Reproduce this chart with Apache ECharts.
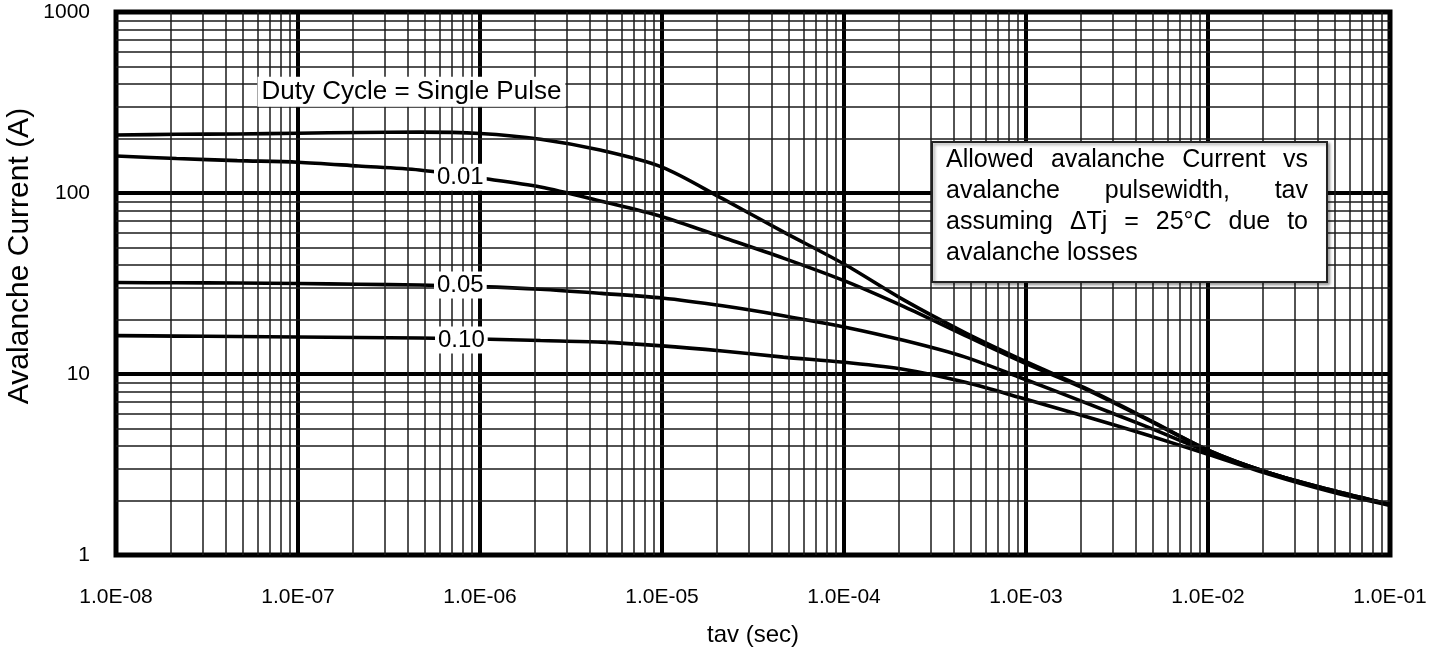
<!DOCTYPE html>
<html><head><meta charset="utf-8">
<script src="https://cdn.jsdelivr.net/npm/echarts@6/dist/echarts.min.js"></script>
<style>html,body{margin:0;padding:0;background:#fff}#c{width:1445px;height:652px}</style>
</head><body><div id="c"></div>
<script>
// ---- data ----
const tav = [1e-8, 2.15e-8, 4.64e-8, 1e-7, 2.15e-7, 4.64e-7, 1e-6, 2.15e-6, 4.64e-6, 1e-5, 2.15e-5, 4.64e-5,
             1e-4, 2.15e-4, 4.64e-4, 1e-3, 2.15e-3, 4.64e-3, 1e-2, 2.15e-2, 4.64e-2, 1e-1];
const singlePulse = [209, 211, 212, 214, 216, 217, 213, 198, 172, 139, 93, 61, 40.5, 25.5, 16.9, 11.7, 8.3, 5.65, 3.8, 2.85, 2.3, 1.9];
const duty001     = [160, 155, 151, 148, 141, 134, 121, 108, 90, 74, 57, 43.7, 32.8, 23.5, 16.3, 11.4, 8.2, 5.6, 3.8, 2.85, 2.3, 1.9];
const duty005     = [32, 31.9, 31.8, 31.6, 31.3, 31.0, 30.4, 29.4, 27.9, 26.3, 23.8, 21.0, 18.2, 15.3, 12.4, 9.3, 6.9, 5.1, 3.72, 2.85, 2.28, 1.9];
const duty010     = [16.3, 16.2, 16.1, 16.0, 15.9, 15.8, 15.6, 15.3, 15.0, 14.3, 13.4, 12.4, 11.6, 10.6, 9.0, 7.25, 5.8, 4.6, 3.6, 2.8, 2.25, 1.88];
const xTickLabels = ['1.0E-08', '1.0E-07', '1.0E-06', '1.0E-05', '1.0E-04', '1.0E-03', '1.0E-02', '1.0E-01'];
const yTickLabels = ['1', '10', '100', '1000'];
const curveLabelText = ['Duty Cycle = Single Pulse', '0.01', '0.05', '0.10'];
const curveLabelTav = [4.2e-7, 7.8e-7, 7.8e-7, 7.9e-7];
const curveLabelAmp = [362, 122, 31.0, 15.4];
const noteLines = [
  ['Allowed', 'avalanche', 'Current', 'vs'],
  ['avalanche', 'pulsewidth,', 'tav'],
  ['assuming', '\u0394Tj', '=', '25\u00B0C', 'due', 'to'],
  ['avalanche losses']
];
const xAxisName = 'tav (sec)';
const yAxisName = 'Avalanche Current (A)';

// ---- chart ----
const FONT = '"Liberation Sans", Arial, Helvetica, sans-serif';
const pairs = ys => tav.map((t, i) => [t, ys[i]]);
const minorX = [], minorY = [];
for (let e = -8; e < -1; e++) for (let m = 2; m <= 9; m++) minorX.push({xAxis: m * Math.pow(10, e)});
for (let e = 0; e < 3; e++) for (let m = 2; m <= 9; m++) minorY.push({yAxis: m * Math.pow(10, e)});

const chart = echarts.init(document.getElementById('c'), null, {renderer: 'canvas'});

function curve(name, ys) {
  return {
    name, type: 'line', data: pairs(ys), showSymbol: false, smooth: 0.3,
    lineStyle: {color: '#000', width: 3.6}, z: 3, silent: true, animation: false
  };
}

// word justification for note box
const meas = document.createElement('canvas').getContext('2d');
const NOTE_SIZE = 25;
meas.font = NOTE_SIZE + 'px ' + FONT;
const noteLeft = 946, noteRight = 1308, lineY = [160, 191, 222, 253];
const noteEls = [];
noteLines.forEach((words, li) => {
  if (li === noteLines.length - 1) {
    noteEls.push({type: 'text', x: noteLeft, y: lineY[li], z: 101,
      style: {text: words.join(' '), font: NOTE_SIZE + 'px ' + FONT, fill: '#000', textAlign: 'left', textVerticalAlign: 'middle'}});
    return;
  }
  const widths = words.map(w => meas.measureText(w).width);
  const total = widths.reduce((a, b) => a + b, 0);
  const gap = (noteRight - noteLeft - total) / (words.length - 1);
  let x = noteLeft;
  words.forEach((w, i) => {
    noteEls.push({type: 'text', x: x, y: lineY[li], z: 101,
      style: {text: w, font: NOTE_SIZE + 'px ' + FONT, fill: '#000', textAlign: 'left', textVerticalAlign: 'middle'}});
    x += widths[i] + gap;
  });
});

const option = {
  backgroundColor: '#fff',
  animation: false,
  textStyle: {fontFamily: FONT},
  grid: {left: 116, right: 55, top: 12, bottom: 96, show: true, borderColor: '#000', borderWidth: 5, backgroundColor: 'transparent', z: 5},
  xAxis: {
    type: 'log', logBase: 10, min: 1e-8, max: 1e-1, splitNumber: 7,
    name: xAxisName, nameLocation: 'middle', nameGap: 68,
    nameTextStyle: {fontSize: 24, color: '#000', fontFamily: FONT},
    axisLine: {show: false}, axisTick: {show: false},
    axisLabel: {fontSize: 21, color: '#000', fontFamily: FONT, margin: 32,
      formatter: v => xTickLabels[Math.round(Math.log10(v)) + 8]},
    splitLine: {show: true, lineStyle: {color: '#000', width: 4}}
  },
  yAxis: {
    type: 'log', logBase: 10, min: 1, max: 1000, splitNumber: 3,
    axisLine: {show: false}, axisTick: {show: false},
    axisLabel: {fontSize: 21, color: '#000', fontFamily: FONT, margin: 26, padding: [8, 0, 0, 0],
      formatter: v => yTickLabels[Math.round(Math.log10(v))]},
    splitLine: {show: true, lineStyle: {color: '#000', width: 4}}
  },
  graphic: [
    {type: 'text', x: 20, y: 256, rotation: Math.PI / 2, z: 50,
      style: {text: yAxisName, font: '30px ' + FONT, fill: '#000', textAlign: 'center', textVerticalAlign: 'middle'}},
    {type: 'rect', z: 100, shape: {x: 932, y: 142, width: 395, height: 140},
      style: {fill: '#fff', stroke: '#222', lineWidth: 2, shadowBlur: 3, shadowOffsetX: 2, shadowOffsetY: 2, shadowColor: 'rgba(0,0,0,0.35)'}}
  ].concat(noteEls),
  series: [
    {
      name: 'minor grid', type: 'line', data: [], z: 1, silent: true,
      markLine: {silent: true, symbol: ['none', 'none'], animation: false, label: {show: false}, precision: 15,
        lineStyle: {color: '#1a1a1a', width: 1.5, type: 'solid'}, emphasis: {disabled: true},
        data: minorX.concat(minorY)}
    },
    curve('Single Pulse', singlePulse),
    curve('0.01', duty001),
    curve('0.05', duty005),
    curve('0.10', duty010),
    {
      name: 'labels', type: 'line', data: [], z: 20, silent: true,
      markPoint: {
        symbol: 'rect', symbolSize: 1, itemStyle: {color: 'rgba(0,0,0,0)'}, animation: false,
        label: {show: true, position: 'inside', formatter: p => p.name, color: '#000', fontSize: 24,
          fontFamily: FONT, backgroundColor: '#fff', padding: [2, 3, 1, 3]},
        data: curveLabelText.map((t, i) => ({name: t, coord: [curveLabelTav[i], curveLabelAmp[i]],
          label: i === 0 ? {fontSize: 26, padding: [2, 4, 2, 4]} : {}}))
      }
    }
  ]
};
chart.setOption(option);
</script></body></html>
